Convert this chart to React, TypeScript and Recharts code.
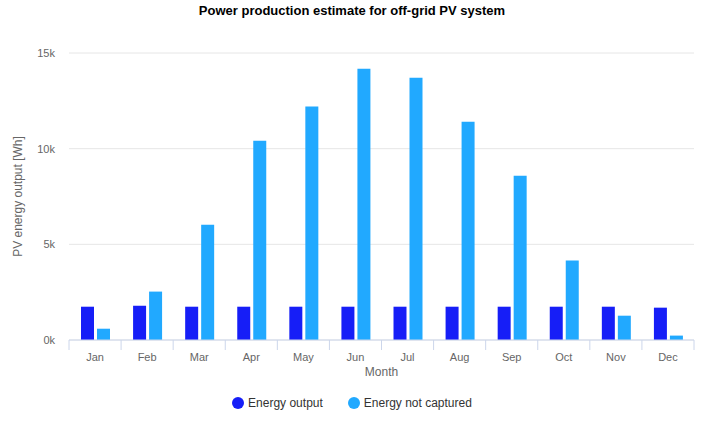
import { Bar, BarChart, CartesianGrid, Legend, XAxis, YAxis } from "recharts";

const months = ["Jan", "Feb", "Mar", "Apr", "May", "Jun", "Jul", "Aug", "Sep", "Oct", "Nov", "Dec"];
const energyOutput = [1740, 1790, 1740, 1740, 1740, 1740, 1740, 1740, 1740, 1740, 1740, 1690];
const energyNotCaptured = [590, 2530, 6030, 10420, 12200, 14180, 13710, 11410, 8590, 4150, 1270, 230];
const yTicks = [0, 5000, 10000, 15000];
const seriesOrder = ["output", "notCaptured"];

const data = months.map((month, i) => ({
  month,
  output: energyOutput[i],
  notCaptured: energyNotCaptured[i],
}));

const FONT = '"Liberation Sans", Arial, Helvetica, sans-serif';
const AXIS_COLOR = "#ccd6eb";
const BAND = (704 - 69 - 10) / months.length;

function MonthTick(props: any) {
  const { x, y, payload, index } = props;
  const isLast = index === months.length - 1;
  return (
    <g>
      <line x1={x - BAND / 2} y1={y} x2={x - BAND / 2} y2={y + 10} stroke={AXIS_COLOR} />
      {isLast && <line x1={x + BAND / 2} y1={y} x2={x + BAND / 2} y2={y + 10} stroke={AXIS_COLOR} />}
      <text x={x} y={y + 17} dy="0.35em" textAnchor="middle" fill="#666666" fontSize={11} fontFamily={FONT}>
        {payload.value}
      </text>
    </g>
  );
}

export default function App() {
  return (
    <div style={{ position: "absolute", left: 0, top: 0, width: 704, height: 428, background: "#fff" }}>
      <div
        style={{
          position: "absolute",
          top: 3,
          left: 0,
          width: 704,
          textAlign: "center",
          fontFamily: FONT,
          fontSize: 13,
          fontWeight: "bold",
          color: "#000",
        }}
      >
        Power production estimate for off-grid PV system
      </div>
      <BarChart
        width={704}
        height={428}
        data={data}
        margin={{ top: 53, right: 10, bottom: 5, left: 0 }}
        barSize={13}
        barGap={3}
      >
        <CartesianGrid vertical={false} stroke="#e6e6e6" />
        <XAxis
          dataKey="month"
          stroke={AXIS_COLOR}
          tickLine={false}
          tickSize={0}
          tickMargin={0}
          height={53}
          tick={<MonthTick />}
          label={{ value: "Month", position: "insideBottom", offset: 17, fill: "#666666", fontSize: 12, fontFamily: FONT }}
        />
        <YAxis
          width={69}
          domain={[0, 15000]}
          ticks={yTicks}
          axisLine={false}
          tickLine={false}
          tickSize={6}
          tickMargin={8}
          tickFormatter={(v) => `${v / 1000}k`}
          tick={{ fill: "#666666", fontSize: 11, fontFamily: FONT }}
          label={{
            value: "PV energy output [Wh]",
            angle: -90,
            position: "insideLeft",
            offset: 18,
            style: { textAnchor: "middle", fill: "#666666", fontSize: 12, fontFamily: FONT },
          }}
        />
        <Legend
          verticalAlign="bottom"
          iconType="circle"
          iconSize={12}
          height={30}
          wrapperStyle={{ paddingLeft: 10 }}
          itemSorter={(item: any) => seriesOrder.indexOf(item.dataKey)}
          formatter={(value, entry: any) => (
            <span
              style={{
                color: "#333333",
                fontSize: 12,
                fontFamily: FONT,
                marginRight: entry.dataKey === "output" ? 15 : 0,
              }}
            >
              {value}
            </span>
          )}
        />
        <Bar dataKey="output" name="Energy output" fill="#161ef7" isAnimationActive={false} />
        <Bar dataKey="notCaptured" name="Energy not captured" fill="#21a9ff" isAnimationActive={false} />
      </BarChart>
    </div>
  );
}
